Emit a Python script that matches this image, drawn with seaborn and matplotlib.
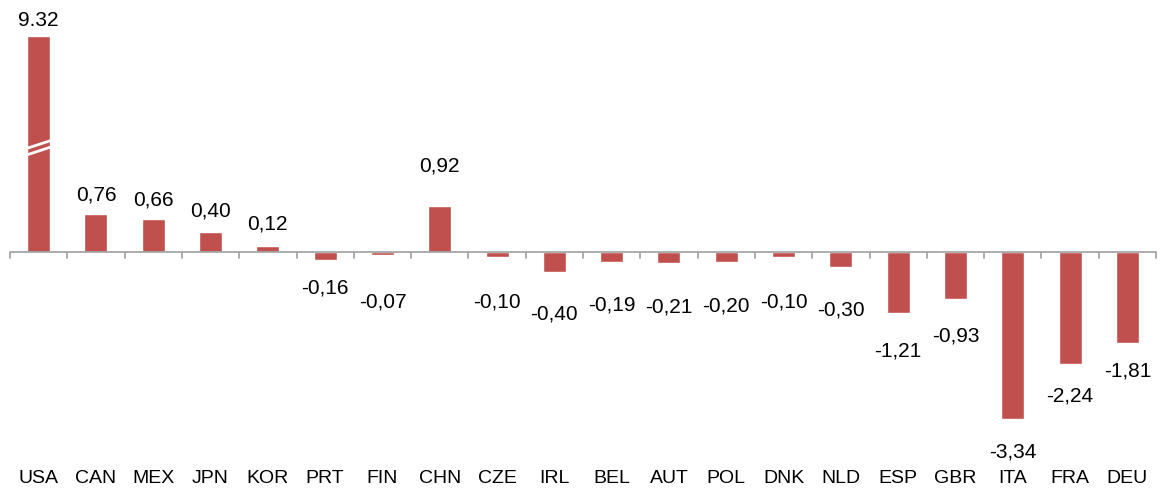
import matplotlib
matplotlib.use("Agg")
import matplotlib.pyplot as plt
import numpy as np
import pandas as pd
import seaborn as sns

sns.set_theme(style="white")
plt.rcParams['font.family'] = ['Liberation Sans', 'DejaVu Sans']

countries = ["USA", "CAN", "MEX", "JPN", "KOR", "PRT", "FIN", "CHN", "CZE", "IRL",
             "BEL", "AUT", "POL", "DNK", "NLD", "ESP", "GBR", "ITA", "FRA", "DEU"]
values = [9.32, 0.76, 0.66, 0.40, 0.12, -0.16, -0.07, 0.92, -0.10, -0.40,
          -0.19, -0.21, -0.20, -0.10, -0.30, -1.21, -0.93, -3.34, -2.24, -1.81]
# gap in pixels between the end of a bar and its label (labels were hand placed)
label_gap = [10, 14, 14, 16, 17, 18, 37, 35, 35, 33,
             34, 35, 34, 36, 34, 29, 28, 23, 22, 19]
# the USA bar is drawn shorter, with a break in it
break_cut = 5.0

bar_color = "#C0504D"

df = pd.DataFrame({"country": countries, "value": values})
df["shown"] = [v - break_cut if v > break_cut else v for v in df["value"]]

fig = plt.figure(figsize=(11.6, 4.88), dpi=100)
ax = fig.add_axes([10 / 1160, 28 / 488, 1146 / 1160, 460 / 488])

sns.barplot(data=df, x="country", y="shown", color=bar_color, saturation=1,
            width=0.4, ax=ax)

ax.set_xlim(-0.5, len(countries) - 0.5)
ax.set_ylim(-4.16, 5.04)

# zero line with small ticks between categories
ax.axhline(0, color="#A6A6A6", lw=1.3, zorder=3)
for b in np.arange(-0.5, len(countries), 1.0):
    ax.plot([b, b], [0, -0.12], color="#A6A6A6", lw=1.3, zorder=3, clip_on=False)

# value labels
px = 72 / 100
for i, (v, s, g) in enumerate(zip(df["value"], df["shown"], label_gap)):
    if v == values[0]:
        txt = f"{v:.2f}"
    else:
        txt = f"{v:.2f}".replace(".", ",")
    if s >= 0:
        ax.annotate(txt, (i, s), xytext=(0, (g - 4.4) * px), textcoords="offset points",
                    ha="center", va="bottom", fontsize=15, color="black")
    else:
        ax.annotate(txt, (i, s), xytext=(0, -g * px), textcoords="offset points",
                    ha="center", va="top", fontsize=15, color="black")

# break marks on the USA bar
h = df["shown"][0]
for off in [0.0, 0.13]:
    ax.plot([-0.2, 0.2], [h * 0.45 + off, h * 0.485 + off], color="white", lw=2, zorder=4)

for sp in ax.spines.values():
    sp.set_visible(False)
ax.set_yticks([])
ax.set_xlabel("")
ax.set_ylabel("")
ax.tick_params(axis="x", length=0, pad=7, labelsize=14, colors="black")

fig.savefig("out.png", dpi=100)
